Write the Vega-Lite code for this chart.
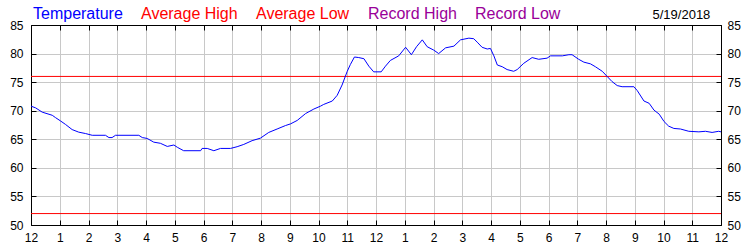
{
  "$schema": "https://vega.github.io/schema/vega-lite/v6.json",
  "width": 690,
  "height": 200,
  "autosize": {"type": "none"},
  "padding": {"left": 31, "top": 25, "right": 29, "bottom": 25},
  "background": "white",
  "title": {"text": "5/19/2018", "anchor": "end", "fontSize": 13, "fontWeight": "normal", "color": "#000000", "font": "Liberation Sans", "offset": -16, "dx": -30},
  "config": {
    "view": {"stroke": "#000000", "strokeWidth": 1},
    "font": "Liberation Sans",
    "axis": {
      "domainColor": "#000000",
      "domainWidth": 1,
      "tickColor": "#000000",
      "tickSize": -5,
      "tickWidth": 1,
      "gridColor": "#c8c8c8",
      "gridWidth": 1,
      "labelColor": "#000000",
      "labelFont": "Liberation Sans",
      "labelFontSize": 12,
      "labelFlush": false,
      "labelOverlap": false,
      "title": null
    }
  },
  "datasets": {
    "temps": [
      {"hour": 0, "temp": 70.8}, {"hour": 0.16, "temp": 70.5}, {"hour": 0.39, "temp": 69.75}, {"hour": 0.74, "temp": 69.2},
      {"hour": 0.85, "temp": 68.8}, {"hour": 1.03, "temp": 68.2}, {"hour": 1.2, "temp": 67.6}, {"hour": 1.43, "temp": 66.7},
      {"hour": 1.66, "temp": 66.25}, {"hour": 1.9, "temp": 66.0}, {"hour": 2.13, "temp": 65.7}, {"hour": 2.59, "temp": 65.7},
      {"hour": 2.71, "temp": 65.3}, {"hour": 2.82, "temp": 65.3}, {"hour": 2.94, "temp": 65.7}, {"hour": 3.75, "temp": 65.7},
      {"hour": 3.87, "temp": 65.3}, {"hour": 4.04, "temp": 65.15}, {"hour": 4.27, "temp": 64.5}, {"hour": 4.5, "temp": 64.3},
      {"hour": 4.74, "temp": 63.75}, {"hour": 4.97, "temp": 64.0}, {"hour": 5.09, "temp": 63.6}, {"hour": 5.31, "temp": 63.0},
      {"hour": 5.9, "temp": 63.0}, {"hour": 5.95, "temp": 63.4}, {"hour": 6.13, "temp": 63.4}, {"hour": 6.36, "temp": 63.0},
      {"hour": 6.59, "temp": 63.4}, {"hour": 6.94, "temp": 63.4}, {"hour": 7.17, "temp": 63.7}, {"hour": 7.4, "temp": 64.1},
      {"hour": 7.69, "temp": 64.76}, {"hour": 7.98, "temp": 65.2}, {"hour": 8.27, "temp": 66.2}, {"hour": 8.56, "temp": 66.8},
      {"hour": 8.85, "temp": 67.4}, {"hour": 9.03, "temp": 67.7}, {"hour": 9.26, "temp": 68.3}, {"hour": 9.55, "temp": 69.5},
      {"hour": 9.84, "temp": 70.3}, {"hour": 10.07, "temp": 70.8}, {"hour": 10.18, "temp": 71.1}, {"hour": 10.48, "temp": 71.7},
      {"hour": 10.65, "temp": 72.7}, {"hour": 10.82, "temp": 74.5}, {"hour": 11.0, "temp": 76.9}, {"hour": 11.11, "temp": 78.1},
      {"hour": 11.25, "temp": 79.4}, {"hour": 11.4, "temp": 79.3}, {"hour": 11.58, "temp": 79.1}, {"hour": 11.75, "temp": 77.8},
      {"hour": 11.92, "temp": 76.8}, {"hour": 12.18, "temp": 76.8}, {"hour": 12.33, "temp": 77.8}, {"hour": 12.5, "temp": 78.8},
      {"hour": 12.79, "temp": 79.6}, {"hour": 13.03, "temp": 81.1}, {"hour": 13.23, "temp": 79.8}, {"hour": 13.41, "temp": 81.2},
      {"hour": 13.61, "temp": 82.4}, {"hour": 13.78, "temp": 81.2}, {"hour": 14.01, "temp": 80.6}, {"hour": 14.18, "temp": 80.0},
      {"hour": 14.42, "temp": 81.0}, {"hour": 14.71, "temp": 81.3}, {"hour": 14.94, "temp": 82.4}, {"hour": 15.23, "temp": 82.7},
      {"hour": 15.4, "temp": 82.6}, {"hour": 15.52, "temp": 82.0}, {"hour": 15.69, "temp": 81.1}, {"hour": 15.87, "temp": 80.8},
      {"hour": 15.98, "temp": 80.9}, {"hour": 16.1, "temp": 79.6}, {"hour": 16.22, "temp": 78.0}, {"hour": 16.39, "temp": 77.7},
      {"hour": 16.56, "temp": 77.2}, {"hour": 16.79, "temp": 76.9}, {"hour": 16.91, "temp": 77.2}, {"hour": 17.14, "temp": 78.3},
      {"hour": 17.43, "temp": 79.3}, {"hour": 17.66, "temp": 79.0}, {"hour": 17.95, "temp": 79.2}, {"hour": 18.07, "temp": 79.6},
      {"hour": 18.48, "temp": 79.6}, {"hour": 18.71, "temp": 79.8}, {"hour": 18.82, "temp": 79.8}, {"hour": 19.05, "temp": 79.0},
      {"hour": 19.23, "temp": 78.5}, {"hour": 19.46, "temp": 78.2}, {"hour": 19.63, "temp": 77.7}, {"hour": 19.87, "temp": 76.9},
      {"hour": 20.04, "temp": 76.0}, {"hour": 20.21, "temp": 75.1}, {"hour": 20.39, "temp": 74.4}, {"hour": 20.56, "temp": 74.2},
      {"hour": 20.97, "temp": 74.2}, {"hour": 21.09, "temp": 73.5}, {"hour": 21.32, "temp": 71.7}, {"hour": 21.5, "temp": 71.3},
      {"hour": 21.67, "temp": 70.1}, {"hour": 21.85, "temp": 69.4}, {"hour": 22.02, "temp": 68.1}, {"hour": 22.18, "temp": 67.3},
      {"hour": 22.36, "temp": 66.9}, {"hour": 22.59, "temp": 66.8}, {"hour": 22.88, "temp": 66.4}, {"hour": 23.23, "temp": 66.3},
      {"hour": 23.46, "temp": 66.4}, {"hour": 23.69, "temp": 66.2}, {"hour": 23.92, "temp": 66.4}, {"hour": 24, "temp": 66.3}
    ],
    "normals": [
      {"series": "Average High", "temp": 76},
      {"series": "Average Low", "temp": 52}
    ]
  },
  "layer": [
    {
      "data": {"name": "temps"},
      "mark": {"type": "line", "opacity": 0},
      "encoding": {
        "x": {"field": "hour", "type": "quantitative", "scale": {"domain": [0, 24], "nice": false, "zero": false},
          "axis": {"orient": "top", "labels": false, "grid": false, "values": [0,1,2,3,4,5,6,7,8,9,10,11,12,13,14,15,16,17,18,19,20,21,22,23,24]}},
        "y": {"field": "temp", "type": "quantitative", "scale": {"domain": [50, 85], "nice": false, "zero": false},
          "axis": {"orient": "right", "grid": false, "values": [50,55,60,65,70,75,80,85], "labelPadding": 11}}
      }
    },
    {
      "data": {"name": "normals"},
      "mark": {"type": "rule", "strokeWidth": 1},
      "encoding": {
        "y": {"field": "temp", "type": "quantitative", "axis": null},
        "color": {"field": "series", "type": "nominal",
          "scale": {"domain": ["Temperature", "Average High", "Average Low", "Record High", "Record Low"],
                    "range": ["#0000ff", "#ff0000", "#ff0000", "#990099", "#990099"]},
          "legend": {
            "orient": "top",
            "direction": "horizontal",
            "title": null,
            "symbolSize": 1,
            "symbolOpacity": 0,
            "symbolStrokeWidth": 0,
            "labelOffset": -14,
            "labelFont": "Liberation Sans",
            "labelFontSize": 16,
            "columnPadding": 16,
            "padding": 0,
            "offset": 2,
            "labelColor": {"expr": "scale('color', datum.value)"}
          }}
      }
    },
    {
      "data": {"name": "temps"},
      "mark": {"type": "line", "strokeWidth": 1},
      "encoding": {
        "x": {"field": "hour", "type": "quantitative",
          "axis": {"orient": "bottom", "grid": true, "values": [0,1,2,3,4,5,6,7,8,9,10,11,12,13,14,15,16,17,18,19,20,21,22,23,24],
            "labelExpr": "datum.value % 12 == 0 ? '12' : '' + (datum.value % 12)", "labelPadding": 12}},
        "y": {"field": "temp", "type": "quantitative",
          "axis": {"orient": "left", "grid": true, "values": [50,55,60,65,70,75,80,85], "labelPadding": 13}},
        "color": {"datum": "Temperature", "type": "nominal"}
      }
    }
  ],
  "resolve": {"axis": {"x": "independent", "y": "independent"}}
}
